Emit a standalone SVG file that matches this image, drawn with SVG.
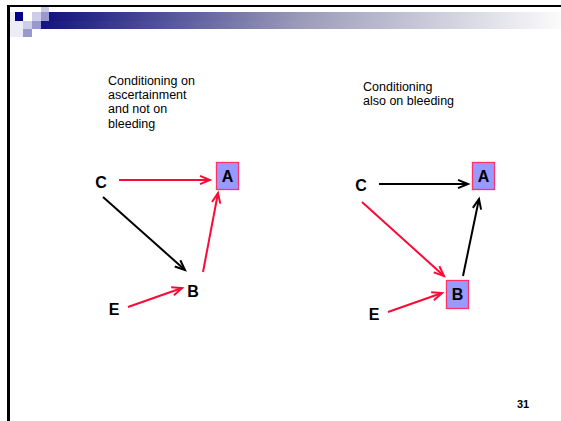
<svg xmlns="http://www.w3.org/2000/svg" width="561" height="421" viewBox="0 0 561 421">
  <style>
    .lbl { font-family: "Liberation Sans", Arial, sans-serif; font-size: 12.5px; fill: #000; }
    .node { font-family: "Liberation Sans", Arial, sans-serif; font-size: 16px; font-weight: bold; fill: #000; text-anchor: middle; }
    .box { fill: #9999ff; stroke: #ff3366; stroke-width: 1.3; }
    .red { stroke: #fa0a36; stroke-width: 2; fill: none; }
    .blk { stroke: #000; stroke-width: 2; fill: none; }
  </style>
  <defs>
    <linearGradient id="bar" x1="0" y1="0" x2="1" y2="0">
      <stop offset="0" stop-color="#14147e"/>
      <stop offset="0.5" stop-color="#9c9cba"/>
      <stop offset="1" stop-color="#fbfbfb"/>
    </linearGradient>
    <marker id="ahRed" markerUnits="userSpaceOnUse" markerWidth="14" markerHeight="12" refX="11" refY="5" orient="auto" viewBox="0 0 14 10">
      <path d="M1,0.8 L11,5 L1,9.2" fill="none" stroke="#fa0a36" stroke-width="2" stroke-linejoin="miter"/>
    </marker>
    <marker id="ahBlk" markerUnits="userSpaceOnUse" markerWidth="14" markerHeight="12" refX="11" refY="5" orient="auto" viewBox="0 0 14 10">
      <path d="M1,0.8 L11,5 L1,9.2" fill="none" stroke="#000" stroke-width="2" stroke-linejoin="miter"/>
    </marker>
  </defs>

  <rect width="561" height="421" fill="#fff"/>

  <!-- slide header -->
  <g id="header">
    <rect x="49" y="12" width="512" height="9" fill="url(#bar)"/>
    <rect x="41" y="21" width="520" height="8" fill="url(#bar)"/>
    <rect x="10" y="12" width="5" height="25" fill="#ececf6"/>
    <rect x="15" y="21" width="8" height="16" fill="#ececf6"/>
    <rect x="15" y="12" width="8" height="9" fill="#000080"/>
    <rect x="32" y="12" width="9" height="9" fill="#ccccec"/>
    <rect x="41" y="7" width="8" height="5" fill="#cacae6"/>
    <rect x="41" y="12" width="8" height="9" fill="#9999cc"/>
    <rect x="23" y="21" width="9" height="8" fill="#ccccec"/>
    <rect x="32" y="21" width="9" height="8" fill="#9999cc"/>
    <rect x="23" y="29" width="9" height="8" fill="#9999cc"/>
    <rect x="7" y="5" width="554" height="2" fill="#000"/>
    <rect x="7" y="5" width="3" height="416" fill="#000"/>
  </g>

  <!-- captions -->
  <text class="lbl" x="108" y="85">
    <tspan x="108" y="85">Conditioning on</tspan>
    <tspan x="108" y="99">ascertainment</tspan>
    <tspan x="108" y="113">and not on</tspan>
    <tspan x="108" y="128">bleeding</tspan>
  </text>
  <text class="lbl" x="363" y="91">
    <tspan x="363" y="91">Conditioning</tspan>
    <tspan x="363" y="105">also on bleeding</tspan>
  </text>

  <!-- connectors -->
  <g id="connectors">
    <line class="red" x1="119" y1="180" x2="210" y2="180" marker-end="url(#ahRed)"/>
    <line class="blk" x1="103" y1="197" x2="185" y2="270" marker-end="url(#ahBlk)"/>
    <line class="red" x1="203" y1="272" x2="218" y2="193" marker-end="url(#ahRed)"/>
    <line class="red" x1="128" y1="307" x2="182" y2="288" marker-end="url(#ahRed)"/>

    <line class="blk" x1="379" y1="184" x2="468" y2="184" marker-end="url(#ahBlk)"/>
    <line class="red" x1="362" y1="202" x2="444" y2="276" marker-end="url(#ahRed)"/>
    <line class="blk" x1="463" y1="276" x2="479" y2="199" marker-end="url(#ahBlk)"/>
    <line class="red" x1="388" y1="312" x2="442" y2="293" marker-end="url(#ahRed)"/>
  </g>

  <!-- left graph nodes -->
  <g id="left-C"><text class="node" x="101" y="188">C</text></g>
  <g id="left-A">
    <rect class="box" x="216.5" y="162.5" width="22" height="27"/>
    <text class="node" x="227.5" y="182">A</text>
  </g>
  <g id="left-B"><text class="node" x="193" y="297">B</text></g>
  <g id="left-E"><text class="node" x="114" y="315">E</text></g>

  <!-- right graph nodes -->
  <g id="right-C"><text class="node" x="361" y="191">C</text></g>
  <g id="right-A">
    <rect class="box" x="472.5" y="162.5" width="22" height="27"/>
    <text class="node" x="483.5" y="182">A</text>
  </g>
  <g id="right-B">
    <rect class="box" x="446.5" y="280.5" width="22" height="28"/>
    <text class="node" x="457.5" y="300">B</text>
  </g>
  <g id="right-E"><text class="node" x="374" y="320">E</text></g>

  <!-- page number -->
  <text x="523" y="408" font-family="'Liberation Sans', Arial, sans-serif" font-size="11" font-weight="bold" text-anchor="middle">31</text>
</svg>
